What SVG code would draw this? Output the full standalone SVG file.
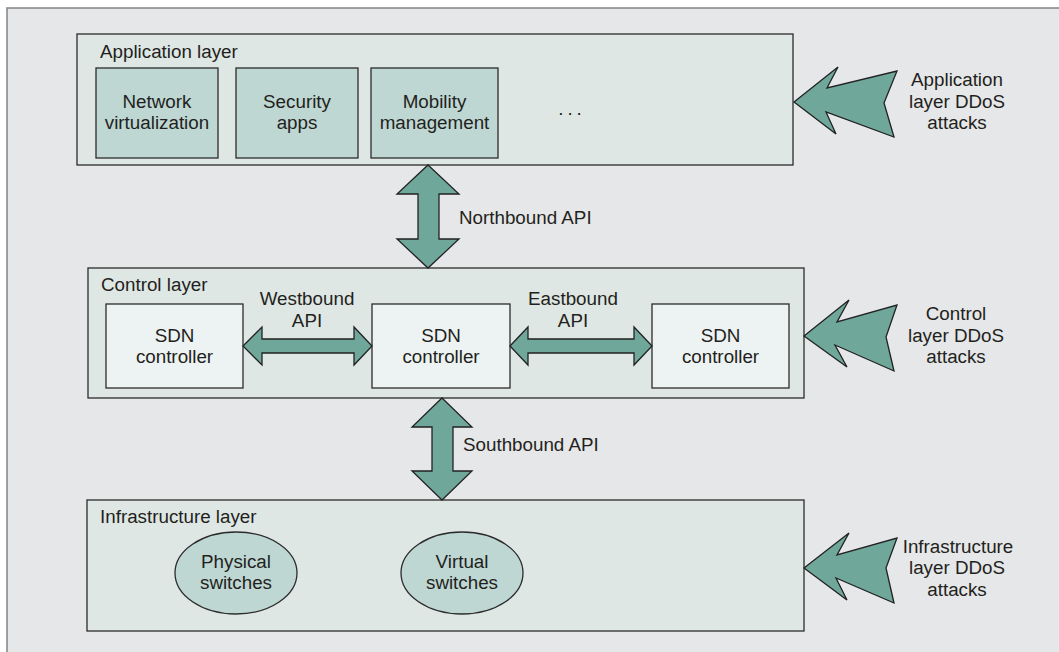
<svg xmlns="http://www.w3.org/2000/svg" width="1059" height="652" viewBox="0 0 1059 652">
<style>
text{font-family:"Liberation Sans",Arial,sans-serif;font-size:18.8px;fill:#231f20}
.c{text-anchor:middle}
.layer{fill:#dfe7e4;stroke:#2b2b2b;stroke-width:1.3}
.app{fill:#bed7d3;stroke:#2b2b2b;stroke-width:1.3}
.ctl{fill:#edf3f2;stroke:#2b2b2b;stroke-width:1.3}
.arr{fill:#6fa79b;stroke:#222;stroke-width:1.3;stroke-linejoin:miter}
</style>
<rect x="0" y="0" width="1059" height="652" fill="#ffffff"/>
<rect x="7" y="8" width="1070" height="660" fill="#e6e7e8" stroke="#8a8a8a" stroke-width="1.6"/>

<g id="application-layer">
<rect class="layer" x="77" y="34" width="716" height="131"/>
<text x="100" y="58">Application layer</text>
</g>
<g id="network-virtualization">
<rect class="app" x="96" y="68" width="122" height="90"/>
<text class="c" x="157" y="107.5">Network</text>
<text class="c" x="157" y="129">virtualization</text>
</g>
<g id="security-apps">
<rect class="app" x="236" y="68" width="122" height="90"/>
<text class="c" x="297" y="107.5">Security</text>
<text class="c" x="297" y="129">apps</text>
</g>
<g id="mobility-management">
<rect class="app" x="371" y="68" width="127" height="90"/>
<text class="c" x="434.5" y="107.5">Mobility</text>
<text class="c" x="434.5" y="129">management</text>
</g>
<g id="more-apps">
<text class="c" x="572" y="115" letter-spacing="4">...</text>
</g>

<g id="control-layer">
<rect class="layer" x="88" y="268" width="716" height="130"/>
<text x="101" y="291">Control layer</text>
</g>
<g id="sdn-controller-1">
<rect class="ctl" x="106" y="304" width="137" height="84"/>
<text class="c" x="174.5" y="341.5">SDN</text>
<text class="c" x="174.5" y="363">controller</text>
</g>
<g id="sdn-controller-2">
<rect class="ctl" x="372" y="304" width="138" height="84"/>
<text class="c" x="441" y="341.5">SDN</text>
<text class="c" x="441" y="363">controller</text>
</g>
<g id="sdn-controller-3">
<rect class="ctl" x="652" y="304" width="137" height="84"/>
<text class="c" x="720.5" y="341.5">SDN</text>
<text class="c" x="720.5" y="363">controller</text>
</g>

<g id="infrastructure-layer">
<rect class="layer" x="87" y="500" width="717" height="131"/>
<text x="100" y="523">Infrastructure layer</text>
</g>
<g id="physical-switches">
<ellipse class="app" cx="236" cy="573" rx="61" ry="41"/>
<text class="c" x="236" y="567.5">Physical</text>
<text class="c" x="236" y="589">switches</text>
</g>
<g id="virtual-switches">
<ellipse class="app" cx="462" cy="573" rx="61" ry="41"/>
<text class="c" x="462" y="567.5">Virtual</text>
<text class="c" x="462" y="589">switches</text>
</g>

<g id="connectors">
<polygon class="arr" points="428,165 459,194 439,194 439,239 459,239 428,268 397,239 418,239 418,194 397,194"/>
<polygon class="arr" points="442,398 472,427 453,427 453,471 472,471 442,500 412,471 432,471 432,427 412,427"/>
<polygon class="arr" points="243,346 262,327 262,339 354,339 354,327 372,346 354,365 354,353 262,353 262,365"/>
<polygon class="arr" points="510,346 528,327 528,339 634,339 634,327 652,346 634,365 634,353 528,353 528,365"/>
<polygon class="arr" points="794,102 838,67 827,88 897,71 884,103 894,137 826,112 836,134"/>
<polygon class="arr" points="804,336 849,300 837,322 897,305 886,337 894,371 835,345 847,367"/>
<polygon class="arr" points="804,568 849,533 837,555 897,538 886,568 894,603 836,578 847,600"/>
</g>

<g id="labels">
<text x="459" y="224">Northbound API</text>
<text x="463" y="451">Southbound API</text>
<text class="c" x="307" y="305">Westbound</text>
<text class="c" x="307" y="327">API</text>
<text class="c" x="573" y="305">Eastbound</text>
<text class="c" x="573" y="327">API</text>
<text class="c" x="957" y="86">Application</text>
<text class="c" x="957" y="107.5">layer DDoS</text>
<text class="c" x="957" y="129">attacks</text>
<text class="c" x="956" y="320">Control</text>
<text class="c" x="956" y="341.5">layer DDoS</text>
<text class="c" x="956" y="363">attacks</text>
<text class="c" x="958" y="552.5">Infrastructure</text>
<text class="c" x="957" y="574">layer DDoS</text>
<text class="c" x="957" y="595.5">attacks</text>
</g>
</svg>
